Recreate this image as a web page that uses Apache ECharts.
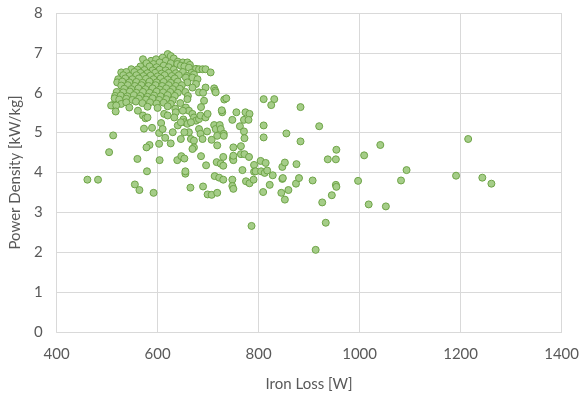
<!DOCTYPE html>
<html>
<head>
<meta charset="utf-8">
<script src="https://cdn.jsdelivr.net/npm/echarts@6/dist/echarts.min.js"></script>
<style>
  html, body { margin: 0; padding: 0; background: #fff; }
  #chart { width: 582px; height: 397px; }
</style>
</head>
<body>
<div id="chart"></div>
<script>
// Axis ticks
const xTicks = [400, 600, 800, 1000, 1200, 1400];
const yTicks = [0, 1, 2, 3, 4, 5, 6, 7, 8];

// Designs in the dense high-density group: [iron loss W, power density kW/kg]
const coreDesigns = [
  [620,6.97],[626,6.92],[632,6.86],
  [571,6.84],[587,6.80],[597,6.84],[610,6.88],[616,6.80],[640,6.78],[650,6.76],
  [578,6.74],[592,6.72],[604,6.76],[626,6.74],[639,6.72],[659,6.76],[664,6.70],
  [566,6.66],[584,6.66],[598,6.64],[612,6.68],[622,6.64],[646,6.68],[653,6.66],[662,6.63],[676,6.60],
  [548,6.59],[560,6.58],[574,6.57],[590,6.56],[604,6.58],[616,6.56],[632,6.58],[682,6.59],[689,6.59],[695,6.59],
  [528,6.51],[538,6.52],[554,6.52],[566,6.50],[580,6.49],[595,6.50],[608,6.48],[622,6.50],[636,6.49],[650,6.52],[667,6.50],[705,6.51],
  [532,6.44],[544,6.42],[558,6.44],[572,6.42],[586,6.43],[600,6.41],[614,6.44],[628,6.42],[642,6.44],[658,6.42],[672,6.46],
  [522,6.34],[536,6.36],[550,6.34],[563,6.36],[577,6.35],[592,6.34],[606,6.36],[620,6.33],[634,6.36],[656,6.38],[669,6.38],[679,6.34],
  [520,6.26],[530,6.28],[544,6.26],[558,6.27],[570,6.25],[584,6.28],[598,6.26],[612,6.27],[626,6.25],[640,6.28],[659,6.26],[676,6.22],
  [528,6.18],[541,6.19],[555,6.17],[568,6.19],[582,6.17],[596,6.19],[609,6.17],[622,6.19],[636,6.17],[648,6.19],
  [534,6.10],[548,6.09],[562,6.11],[576,6.09],[590,6.11],[604,6.08],[617,6.11],[630,6.09],[644,6.10],[669,6.13],[695,6.13],[712,6.11],[714,6.05],
  [519,6.02],[532,6.01],[545,6.03],[558,6.00],[571,6.02],[584,6.00],[598,6.03],[611,6.01],[625,6.02],[640,6.00],[655,6.02],[682,6.01],[690,6.00],[715,6.01],
  [516,5.92],[527,5.93],[540,5.91],[553,5.94],[566,5.92],[580,5.90],[593,5.93],[606,5.91],[620,5.94],[634,5.92],[660,5.92],
  [515,5.86],[524,5.83],[538,5.85],[550,5.82],[563,5.85],[577,5.83],[590,5.86],[603,5.82],[617,5.84],[630,5.81],[659,5.84],[692,5.80],[732,5.83],[736,5.86],
  [511,5.69],[528,5.72],[538,5.76],[557,5.78],[570,5.74],[585,5.76],[598,5.73],[612,5.75],[626,5.72],[645,5.74],
  [508,5.68],[518,5.68],[544,5.63],[561,5.55],[580,5.65],[600,5.62],[620,5.66],[635,5.60],[656,5.63],[686,5.64],
  [517,5.53],[571,5.43],[576,5.36],[580,5.38],[613,5.47],[620,5.43],[636,5.51],[633,5.38],[662,5.55],[669,5.47],[650,5.55]
];

// Designs in the transition band
const midDesigns = [
  [651,5.33],[640,5.18],[672,5.38],[676,5.30],[728,5.51],[727,5.56],[756,5.51],[774,5.51],[782,5.47],
  [748,5.32],[771,5.32],[780,5.32],[763,5.16],[810,5.84],[810,5.18],[810,4.88],
  [653,5.26],[659,5.22],[666,5.26],[682,5.34],[685,5.43],[695,5.38],[699,5.47],
  [712,5.19],[715,5.09],[723,5.19],[725,5.09],[731,4.97],[682,5.09],[685,4.97],[689,4.84],
  [666,4.84],[672,4.80],[662,5.01],[653,5.01],[718,4.92],[731,4.92],[771,5.03],[772,4.86],
  [672,4.63],[669,4.59],[573,5.10],[589,5.12],[584,4.69],[578,4.63],[603,4.99],[603,4.72],
  [615,4.87],[630,5.01],[607,5.24],[610,5.09],[646,5.26],[646,4.84],[626,4.73],
  [831,5.84],[825,5.69],[883,5.64],[920,5.16],[855,4.98]
];

// Sparse lower-density and high-loss designs
const spreadDesigns = [
  [461,3.82],[482,3.82],[504,4.51],[512,4.93],[555,3.70],[560,4.34],[564,3.56],[579,4.03],
  [592,3.49],[604,4.31],[639,4.31],[647,4.41],[653,4.35],[655,3.97],[655,4.03],[665,3.62],
  [686,4.41],[690,3.65],[696,4.18],[699,3.45],[707,3.44],[718,3.49],[713,3.91],[717,4.26],
  [725,4.22],[730,4.17],[722,3.87],[730,3.82],[730,4.39],[718,4.68],[707,4.82],[698,5.03],
  [748,3.82],[748,3.66],[750,3.59],[749,4.35],[750,4.31],[750,4.42],[750,4.63],[765,4.66],
  [765,4.46],[772,4.46],[768,4.06],[775,3.78],[782,3.73],[781,4.39],[790,3.82],[786,2.66],
  [791,4.19],[791,4.02],[794,4.03],[805,4.03],[804,4.29],[814,4.24],[812,3.99],[817,4.05],
  [809,3.51],[822,3.69],[828,3.93],[847,3.84],[848,3.86],[847,4.14],[852,4.25],[845,3.49],
  [852,3.32],[859,3.56],[874,3.72],[875,4.21],[880,3.86],[883,4.78],[907,3.80],[913,2.06],
  [926,3.25],[933,2.74],[937,4.33],[945,3.43],[953,4.33],[954,4.57],[953,3.69],[954,3.64],
  [997,3.79],[1009,4.43],[1018,3.20],[1041,4.69],[1052,3.15],[1082,3.80],[1093,4.06],
  [1191,3.92],[1215,4.84],[1243,3.87],[1261,3.72]
];

const allDesigns = coreDesigns.concat(midDesigns, spreadDesigns);

const textColor = '#595959';
const gridColor = '#d9d9d9';
const fontFamily = 'Lato, "Open Sans", sans-serif';

const chart = echarts.init(document.getElementById('chart'), null, { renderer: 'canvas' });
chart.setOption({
  animation: false,
  backgroundColor: '#ffffff',
  grid: { left: 55, right: 19, top: 13, bottom: 65, containLabel: false },
  xAxis: {
    type: 'value',
    min: xTicks[0],
    max: xTicks[xTicks.length - 1],
    interval: xTicks[1] - xTicks[0],
    name: 'Iron Loss [W]',
    nameLocation: 'middle',
    nameGap: 45,
    nameTextStyle: { color: textColor, fontSize: 15, fontFamily },
    axisLine: { show: true, lineStyle: { color: gridColor, width: 1 } },
    axisTick: { show: false },
    axisLabel: { color: textColor, fontSize: 15, fontFamily, margin: 15, formatter: v => String(v) },
    splitLine: { show: true, lineStyle: { color: gridColor, width: 1 } }
  },
  yAxis: {
    type: 'value',
    min: yTicks[0],
    max: yTicks[yTicks.length - 1],
    interval: yTicks[1] - yTicks[0],
    name: 'Power Density [kW/kg]',
    nameLocation: 'middle',
    nameGap: 31,
    nameTextStyle: { color: textColor, fontSize: 15, fontFamily },
    axisLine: { show: false },
    axisTick: { show: false },
    axisLabel: { color: textColor, fontSize: 15, fontFamily, margin: 14, formatter: v => String(v) },
    splitLine: { show: true, lineStyle: { color: gridColor, width: 1 } }
  },
  series: [{
    type: 'scatter',
    data: allDesigns,
    symbol: 'circle',
    symbolSize: 7,
    itemStyle: { color: '#a5cd88', borderColor: '#6ea447', borderWidth: 1, opacity: 1 }
  }]
});
</script>
</body>
</html>
